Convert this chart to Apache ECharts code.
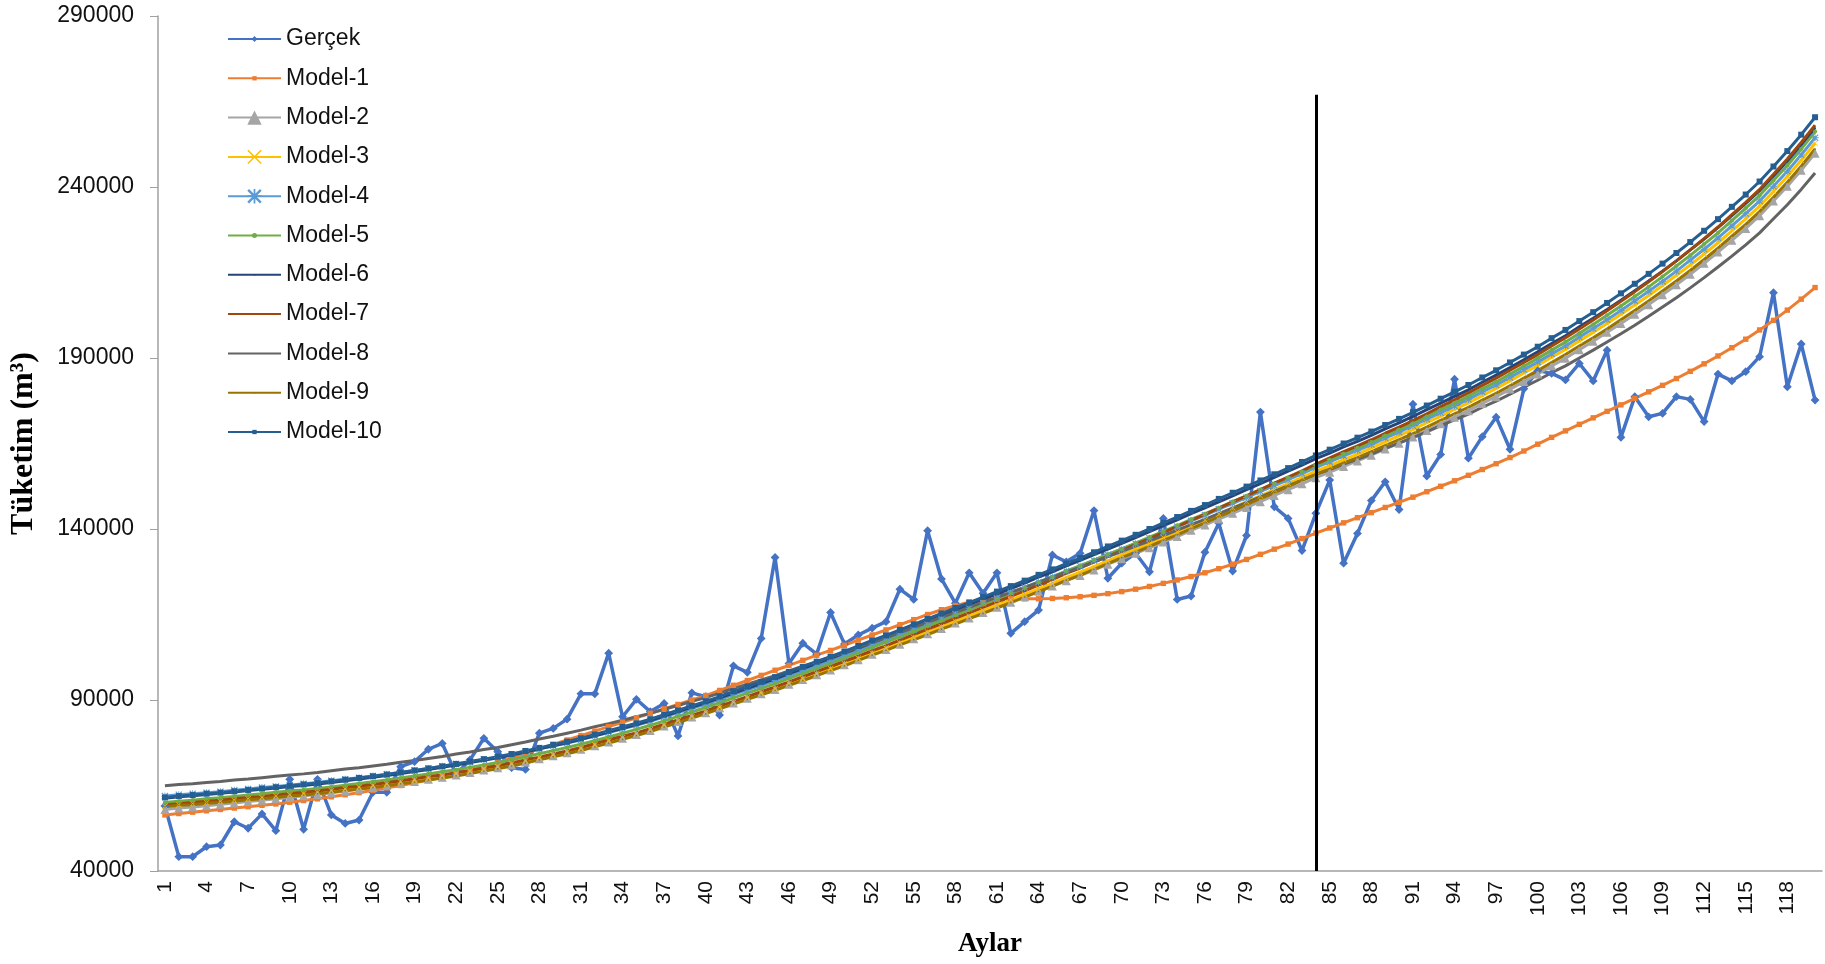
<!DOCTYPE html>
<html>
<head>
<meta charset="utf-8">
<script src="https://cdn.jsdelivr.net/npm/echarts@6/dist/echarts.min.js"></script>
<style>html,body{margin:0;padding:0;background:#fff}#c{width:1825px;height:964px}</style>
</head>
<body>
<div id="c"></div>
<script>
const categories = ['1','2','3','4','5','6','7','8','9','10','11','12','13','14','15','16','17','18','19','20','21','22','23','24','25','26','27','28','29','30','31','32','33','34','35','36','37','38','39','40','41','42','43','44','45','46','47','48','49','50','51','52','53','54','55','56','57','58','59','60','61','62','63','64','65','66','67','68','69','70','71','72','73','74','75','76','77','78','79','80','81','82','83','84','85','86','87','88','89','90','91','92','93','94','95','96','97','98','99','100','101','102','103','104','105','106','107','108','109','110','111','112','113','114','115','116','117','118','119','120'];

const gercek = [59000,44200,44200,47100,47600,54400,52500,56700,51800,66800,52200,66800,56400,53900,54900,63000,63000,70500,72000,75600,77300,68300,72500,78800,74900,70200,69700,80300,81700,84400,91800,91800,103700,85100,90200,86600,89000,79500,92100,91000,85600,100000,98100,108000,131700,100700,106600,103400,115600,106400,109000,111000,112900,122400,119400,139500,125400,118300,127200,121200,127200,109500,112900,116300,132400,130400,132900,145400,125600,130000,132900,127500,143100,119400,120400,133200,141700,127700,138100,174200,146500,143100,133700,144600,154300,130000,138700,148300,153800,145700,176500,155500,161800,183800,160700,167000,172700,163300,181000,186300,185500,183600,188400,183300,192300,166800,178700,172800,173800,178700,177900,171400,185300,183300,186000,190400,209100,181600,194100,177700];

const model1 = [56400,56800,57200,57600,58000,58400,58800,59200,59600,60100,60600,61100,61700,62300,62900,63600,64300,65000,65800,66600,67500,68400,69400,70500,71700,73000,74400,75700,77000,78300,79600,80900,82200,83500,84800,86100,87400,88700,90000,91300,92800,94300,95700,97200,98700,100100,101600,103100,104500,106000,107500,109000,110500,112000,113500,115000,116400,117600,118600,119200,119500,119600,119600,119600,119700,119900,120200,120600,121100,121700,122400,123200,124100,125100,126100,127200,128400,129700,131100,132600,134100,135600,137200,138800,140300,141800,143300,144800,146300,147800,149300,150900,152500,154100,155700,157400,159100,160900,162800,164800,166800,168700,170600,172500,174400,176300,178200,180100,182000,184000,186100,188300,190600,193000,195500,198200,201000,204000,207200,210600];

const model2 = [58000,58400,58700,59100,59500,59900,60300,60700,61100,61500,62000,62400,62900,63400,63900,64400,65000,65600,66200,66800,67400,68100,68800,69500,70200,71000,71900,72800,73700,74600,75600,76600,77700,78800,79900,81100,82400,83700,85000,86300,87700,89100,90500,91800,93100,94600,96000,97400,98800,100300,101800,103400,104800,106300,107900,109400,110900,112500,114000,115600,117100,118600,120200,121800,123300,124900,126400,128000,129700,131300,132900,134500,136200,137800,139600,141200,142900,144600,146300,148000,149800,151500,153200,155000,156600,158300,159900,161600,163400,165100,166900,168800,170800,172700,174600,176700,178700,180900,183100,185300,187700,189900,192400,194900,197500,200100,202800,205600,208500,211400,214500,217700,221000,224400,227900,231600,235900,240200,244900,249900];

const model3 = [59000,59400,59700,60000,60300,60700,61100,61500,61900,62300,62600,63000,63500,64000,64500,65000,65400,66000,66600,67200,67800,68500,69200,69800,70500,71300,72200,73100,73900,74800,75800,76900,78000,79000,80100,81300,82600,83900,85100,86400,87800,89300,90600,92000,93300,94800,96200,97700,99200,100600,102200,103700,105200,106700,108300,109900,111400,113000,114500,116100,117700,119300,120900,122500,124100,125800,127400,129000,130700,132400,134100,135700,137500,139200,141000,142600,144400,146200,148000,149700,151500,153300,155100,156900,158500,160300,161900,163700,165500,167300,169100,171100,173000,175000,176900,179000,181100,183300,185600,187800,190200,192500,195000,197500,200100,202800,205500,208300,211200,214200,217200,220400,223700,227200,230700,234400,238700,243100,247800,252800];

const model4 = [61900,62300,62600,62900,63200,63600,64000,64400,64700,65100,65500,65900,66400,66800,67300,67800,68300,68900,69400,70000,70600,71300,71900,72600,73200,74000,74900,75700,76600,77400,78400,79500,80500,81600,82600,83800,85100,86300,87600,88800,90200,91600,93000,94300,95700,97100,98600,100000,101500,102900,104500,106000,107500,109000,110600,112100,113700,115200,116800,118300,119800,121400,122900,124500,126000,127700,129200,130800,132500,134100,135700,137300,139100,140700,142400,144000,145800,147500,149200,151000,152700,154400,156200,158000,159600,161400,163000,164700,166600,168300,170200,172100,174000,176000,177900,180100,182100,184300,186600,188800,191200,193500,196100,198600,201200,203900,206700,209500,212400,215400,218600,221800,225100,228600,232200,235900,240200,244600,249400,254400];

const model5 = [60000,60400,60700,61100,61400,61800,62200,62600,63000,63400,63700,64100,64600,65100,65600,66100,66600,67200,67800,68400,69000,69600,70300,71000,71700,72500,73400,74300,75200,76100,77100,78100,79200,80300,81400,82600,83900,85200,86500,87800,89200,90600,92000,93400,94800,96300,97800,99200,100700,102200,103800,105400,106900,108500,110000,111600,113200,114800,116400,118000,119600,121200,122800,124400,126000,127700,129200,130900,132600,134200,135900,137600,139300,141000,142800,144400,146200,148000,149700,151500,153300,155000,156800,158600,160200,162000,163700,165400,167300,169100,170900,172900,174900,176800,178800,181000,183000,185300,187600,189900,192300,194700,197200,199800,202500,205200,208000,210800,213800,216900,220000,223300,226600,230200,233800,237500,241900,246300,251100,256200];

const model6 = [61300,61700,62000,62400,62700,63100,63500,63900,64300,64700,65000,65400,65900,66400,66900,67400,67900,68500,69100,69700,70300,71000,71700,72400,73100,73900,74800,75700,76600,77500,78500,79500,80600,81700,82800,84000,85300,86600,87900,89200,90600,92000,93400,94800,96200,97700,99200,100700,102200,103700,105200,106800,108300,109900,111500,113100,114700,116300,117900,119500,121000,122600,124200,125900,127500,129200,130800,132500,134100,135800,137500,139200,141000,142700,144500,146200,147900,149700,151500,153300,155100,156900,158700,160600,162200,164000,165600,167400,169300,171000,172900,174900,176800,178800,180700,182900,185000,187200,189500,191800,194200,196500,199100,201600,204200,206900,209700,212500,215400,218400,221600,224800,228100,231600,235200,238900,243200,247600,252400,257400];

const model7 = [59300,59700,60000,60400,60700,61100,61500,61800,62200,62600,63000,63400,63900,64400,64800,65300,65800,66400,67000,67600,68100,68700,69400,70100,70800,71600,72500,73300,74200,75100,76100,77200,78300,79400,80400,81600,82900,84200,85500,86800,88200,89600,91000,92400,93800,95300,96800,98300,99800,101300,102800,104400,105900,107500,109100,110700,112300,113900,115500,117100,118700,120300,121900,123600,125200,127000,128600,130300,132000,133700,135500,137200,139000,140700,142500,144300,146100,147900,149700,151500,153400,155200,157000,159000,160800,162600,164300,166100,168000,169800,171700,173700,175800,177800,179800,182000,184100,186400,188700,191000,193500,195900,198500,201100,203800,206600,209400,212300,215300,218400,221600,224900,228300,231900,235500,239300,243700,248200,253000,258100];

const model8 = [64900,65300,65500,65900,66200,66600,66900,67300,67700,68100,68400,68800,69300,69800,70200,70700,71200,71800,72300,72900,73500,74200,74800,75500,76100,76900,77700,78600,79400,80300,81200,82200,83100,84100,85100,86100,87300,88400,89600,90700,92000,93400,94600,95900,97100,98500,99900,101200,102600,103900,105400,106900,108200,109700,111200,112700,114200,115600,117100,118600,120000,121500,122900,124400,125900,127400,128800,130400,131900,133400,135000,136500,138100,139700,141300,142800,144500,146100,147700,149400,151000,152600,154300,156000,157400,159000,160400,161900,163600,165100,166700,168400,170200,171900,173600,175600,177400,179400,181500,183500,185700,187700,190000,192300,194700,197100,199600,202200,204900,207600,210500,213500,216600,219800,223100,226600,230700,234800,239300,244100];

const model9 = [58800,59200,59400,59800,60000,60400,60800,61100,61500,61900,62200,62600,63000,63500,64000,64400,64900,65500,66000,66600,67200,67800,68500,69200,69900,70700,71600,72500,73400,74300,75200,76300,77400,78500,79600,80800,82100,83400,84700,86000,87400,88800,90200,91500,92800,94300,95700,97100,98600,100000,101600,103100,104500,106100,107600,109100,110700,112200,113800,115300,116900,118500,120100,121700,123300,125000,126500,128200,129900,131600,133200,134900,136700,138300,140100,141800,143600,145300,147100,148900,150600,152400,154200,156000,157600,159300,160900,162600,164400,166100,167900,169800,171800,173700,175600,177700,179700,181900,184100,186300,188700,191000,193500,195900,198500,201200,203900,206700,209600,212500,215600,218800,222100,225600,229100,232800,237000,241400,246100,251100];

const model10 = [61500,61900,62200,62600,62900,63300,63700,64100,64500,64900,65300,65700,66200,66700,67200,67700,68200,68800,69400,70000,70600,71300,72000,72700,73400,74200,75100,76000,76900,77800,78800,79900,81000,82100,83200,84400,85700,87000,88300,89600,91000,92500,93900,95300,96700,98200,99700,101200,102700,104200,105800,107400,108900,110500,112100,113700,115300,116900,118500,120100,121700,123300,124900,126600,128200,129900,131500,133200,134900,136600,138300,140000,141800,143500,145300,147000,148800,150600,152400,154200,156000,157800,159600,161500,163200,165000,166700,168500,170400,172200,174100,176100,178100,180100,182100,184300,186400,188700,191000,193300,195800,198200,200800,203400,206100,208900,211700,214600,217600,220700,223900,227200,230600,234200,237800,241600,246000,250500,255300,260400];

const seriesNames = ['Gerçek','Model-1','Model-2','Model-3','Model-4','Model-5','Model-6','Model-7','Model-8','Model-9','Model-10'];
const splitCategory = '84';
const splitLineTop = 267000;
const yTicks = {min: 40000, max: 290000, step: 50000};

// symbol shapes (padded boxes so legend icons keep the small marker look)
const PAD = 'M0,0M20,20';
const DIAMOND = 'path://' + PAD + 'M10,6L14,10L10,14L6,10Z';
const SQUARE = 'path://' + PAD + 'M7,7H13V13H7Z';
const XMARK = 'path://M2,3.2L3.2,2L10,8.8L16.8,2L18,3.2L11.2,10L18,16.8L16.8,18L10,11.2L3.2,18L2,16.8L8.8,10Z';
const ASTER = 'path://M0,1.2L1.2,0L5,3.8L8.8,0L10,1.2L6.2,5L10,8.8L8.8,10L5,6.2L1.2,10L0,8.8L3.8,5ZM4.4,0L5.6,0L5.6,10L4.4,10ZM0,4.4L10,4.4L10,5.6L0,5.6Z';
const DOT = 'path://' + PAD + 'M10,6.5A3.5,3.5,0,1,1,9.99,6.5Z';
const TINY = 'path://' + PAD + 'M9,9H11V11H9Z';
const NONE = 'path://' + PAD + 'M10,10H10.05V10.05H10Z';

function mk(name, data, color, symbol, size, extra) {
  return Object.assign({
    name: name, type: 'line', data: data,
    symbol: symbol, symbolSize: size, showAllSymbol: true,
    lineStyle: {color: color, width: 3},
    itemStyle: {color: color},
    emphasis: {disabled: true}
  }, extra || {});
}

const series = [
  mk(seriesNames[0], gercek, '#4472C4', DIAMOND, 22, {lineStyle: {color: '#4472C4', width: 3.5}}),
  mk(seriesNames[1], model1, '#ED7D31', SQUARE, 18),
  mk(seriesNames[2], model2, '#A5A5A5', 'triangle', 9),
  mk(seriesNames[3], model3, '#FFC000', XMARK, 6),
  mk(seriesNames[4], model4, '#5B9BD5', ASTER, 7),
  mk(seriesNames[5], model5, '#70AD47', DOT, 12),
  mk(seriesNames[6], model6, '#264478', TINY, 10),
  mk(seriesNames[7], model7, '#9E480E', NONE, 1, {showSymbol: false}),
  mk(seriesNames[8], model8, '#636363', NONE, 1, {showSymbol: false}),
  mk(seriesNames[9], model9, '#997300', TINY, 14),
  mk(seriesNames[10], model10, '#255E91', SQUARE, 20, {
    markLine: {
      silent: true, symbol: ['none','none'], animation: false,
      label: {show: false},
      lineStyle: {color: '#000', width: 3, type: 'solid'},
      data: [[{coord: [splitCategory, splitLineTop]}, {coord: [splitCategory, yTicks.min]}]]
    }
  })
];

const chart = echarts.init(document.getElementById('c'), null, {renderer: 'canvas'});
chart.setOption({
  animation: false,
  backgroundColor: '#fff',
  grid: {left: 158, right: 3, top: 16, bottom: 93, containLabel: false},
  legend: {
    orient: 'vertical', left: 222, top: 22,
    itemWidth: 53, itemHeight: 18, itemGap: 15.3,
    textStyle: {fontFamily: 'Liberation Sans', fontSize: 23, color: '#111', lineHeight: 24},
    data: seriesNames
  },
  xAxis: {
    type: 'category', data: categories, boundaryGap: true,
    name: 'Aylar', nameLocation: 'middle', nameGap: 60,
    nameTextStyle: {fontFamily: 'Liberation Serif', fontWeight: 'bold', fontSize: 27, color: '#000'},
    axisLine: {lineStyle: {color: '#A0A0A0', width: 1.5}},
    axisTick: {show: false},
    axisLabel: {interval: 2, rotate: 90, margin: 10, fontFamily: 'Liberation Sans', fontSize: 21, color: '#111'},
    splitLine: {show: false}
  },
  yAxis: {
    type: 'value', min: yTicks.min, max: yTicks.max, interval: yTicks.step,
    name: 'Tüketim (m³)', nameLocation: 'middle', nameRotate: 90, nameGap: 118,
    nameTextStyle: {fontFamily: 'Liberation Serif', fontWeight: 'bold', fontSize: 32, color: '#000'},
    axisLine: {show: true, lineStyle: {color: '#A0A0A0', width: 1.5}},
    axisTick: {show: true, length: 8, inside: false, lineStyle: {color: '#A0A0A0'}},
    axisLabel: {margin: 24, fontFamily: 'Liberation Sans', fontSize: 23, color: '#111', formatter: function (v) { return String(v); }},
    splitLine: {show: false}
  },
  series: series
});
</script>
</body>
</html>
